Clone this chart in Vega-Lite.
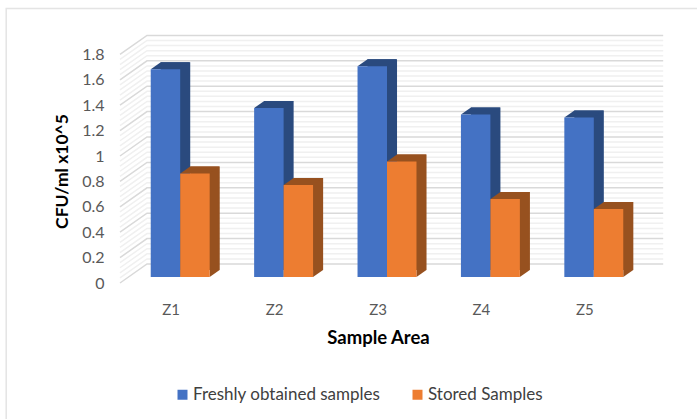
{"$schema":"https://vega.github.io/schema/vega-lite/v6.json","width":687,"height":409,"autosize":"none","padding":{"left":5,"top":8,"right":5,"bottom":2},"background":"white","view":{"stroke":null,"fill":"white"},"config":{"font":"Lato"},"datasets":{"bars":[{"area":"Z1","series":"Freshly obtained samples","cfu":1.635},{"area":"Z1","series":"Stored Samples","cfu":0.815},{"area":"Z2","series":"Freshly obtained samples","cfu":1.33},{"area":"Z2","series":"Stored Samples","cfu":0.725},{"area":"Z3","series":"Freshly obtained samples","cfu":1.66},{"area":"Z3","series":"Stored Samples","cfu":0.91},{"area":"Z4","series":"Freshly obtained samples","cfu":1.28},{"area":"Z4","series":"Stored Samples","cfu":0.615},{"area":"Z5","series":"Freshly obtained samples","cfu":1.255},{"area":"Z5","series":"Stored Samples","cfu":0.535}],"major":[{"t":0},{"t":0.2},{"t":0.4},{"t":0.6},{"t":0.8},{"t":1},{"t":1.2},{"t":1.4},{"t":1.6},{"t":1.8}],"minor":[{"t":0.04},{"t":0.08},{"t":0.12},{"t":0.16},{"t":0.24},{"t":0.28},{"t":0.32},{"t":0.36},{"t":0.44},{"t":0.48},{"t":0.52},{"t":0.56},{"t":0.64},{"t":0.68},{"t":0.72},{"t":0.76},{"t":0.84},{"t":0.88},{"t":0.92},{"t":0.96},{"t":1.04},{"t":1.08},{"t":1.12},{"t":1.16},{"t":1.24},{"t":1.28},{"t":1.32},{"t":1.36},{"t":1.44},{"t":1.48},{"t":1.52},{"t":1.56},{"t":1.64},{"t":1.68},{"t":1.72},{"t":1.76}]},"resolve":{"scale":{"color":"independent","xOffset":"independent"}},"layer":[{"data":{"name":"minor"},"mark":{"type":"point","shape":"M-60.2,6L-33.2,-13L483,-13","size":4,"filled":false,"stroke":"#F0F0F0","strokeWidth":1.5,"opacity":1},"encoding":{"x":{"datum":"Z1","type":"nominal","scale":{"name":"x","domain":["Z1","Z2","Z3","Z4","Z5"],"range":[123.5,640.5],"paddingInner":0.43,"paddingOuter":0.215},"axis":{"title":"Sample Area","titleX":373,"titleY":26,"titleFontSize":18.5,"titleFontWeight":"bold","titleColor":"#000000","titleFont":"Lato","labelAngle":0,"labelOffset":-9,"labelFontSize":15,"labelColor":"#595959","labelFont":"Lato","domain":false,"ticks":false,"offset":-115,"labelPadding":0}},"y":{"field":"t","type":"quantitative","scale":{"domain":[0,1.8],"range":[269,40.4],"nice":false},"axis":{"title":"CFU/ml x10^5","titleX":-33,"titleY":163,"titleAngle":-90,"titleFontSize":17.5,"titleFontWeight":"bold","titleColor":"#000000","titleFont":"Lato","values":[0,0.2,0.4,0.6,0.8,1,1.2,1.4,1.6,1.8],"labelExpr":"datum.value","labelFontSize":16,"labelColor":"#595959","labelFont":"Lato","labelOffset":6,"domain":false,"ticks":false,"grid":false,"offset":-99,"labelPadding":0}}}},{"data":{"name":"major"},"mark":{"type":"point","shape":"M-60.2,6L-33.2,-13L483,-13","size":4,"filled":false,"stroke":"#D9D9D9","strokeWidth":1.5,"opacity":1},"encoding":{"x":{"datum":"Z1","type":"nominal"},"y":{"field":"t","type":"quantitative"}}},{"data":{"values":[{"t":1.8}]},"mark":{"type":"point","shape":"M-174,371L-174,-40L517,-40","size":4,"filled":false,"stroke":"#E4E4E4","strokeWidth":1.5,"opacity":1},"encoding":{"x":{"datum":"Z1","type":"nominal"},"y":{"field":"t","type":"quantitative"}}},{"data":{"name":"bars"},"mark":{"type":"bar","yOffset":-7,"y2Offset":-7},"encoding":{"x":{"field":"area","type":"nominal"},"xOffset":{"field":"series","type":"nominal","scale":{"range":[10,69]}},"y":{"field":"cfu","type":"quantitative"},"color":{"field":"series","type":"nominal","legend":null,"scale":{"range":["#2A4A7E","#97511F"]}}}},{"data":{"name":"bars"},"mark":{"type":"point","filled":true,"size":4,"opacity":1,"shape":"M14.7,-7L24.7,-7L14.7,0Z"},"encoding":{"x":{"field":"area","type":"nominal"},"xOffset":{"field":"series","type":"nominal"},"y":{"datum":0,"type":"quantitative"},"fill":{"field":"series","type":"nominal","legend":null,"scale":{"range":["#2A4A7E","#97511F"]}}}},{"data":{"name":"bars"},"mark":{"type":"point","filled":true,"size":4,"opacity":1,"shape":"M-14.7,0L-4.7,-7L24.7,-7L14.7,0Z"},"encoding":{"x":{"field":"area","type":"nominal"},"xOffset":{"field":"series","type":"nominal"},"y":{"field":"cfu","type":"quantitative"},"fill":{"field":"series","type":"nominal","legend":null,"scale":{"range":["#325694","#B45F21"]}}}},{"data":{"name":"bars"},"mark":{"type":"bar"},"encoding":{"x":{"field":"area","type":"nominal"},"xOffset":{"field":"series","type":"nominal"},"y":{"field":"cfu","type":"quantitative"},"color":{"field":"series","type":"nominal","title":null,"scale":{"range":["#4472C4","#ED7D31"]},"legend":{"orient":"none","legendX":169,"legendY":378,"direction":"horizontal","symbolType":"square","symbolSize":100,"labelFontSize":17,"labelLimit":300,"labelColor":"#404040","labelFont":"Lato","columnPadding":28,"labelOffset":2,"symbolStrokeWidth":0}}}}]}
